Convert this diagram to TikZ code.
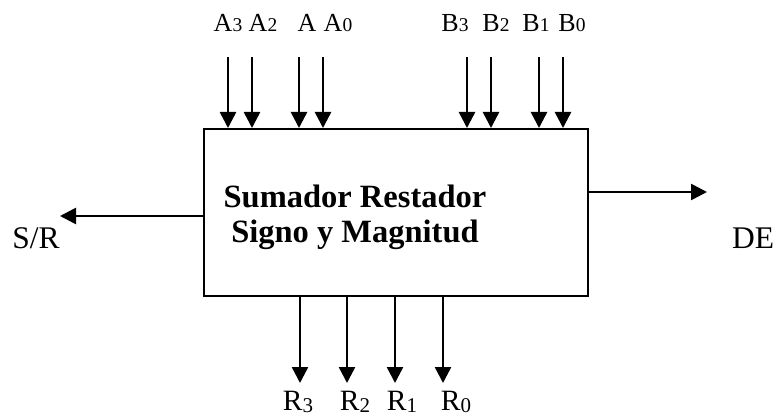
\documentclass[tikz,border=0pt]{standalone}
\usepackage{fontspec}
\setmainfont{Liberation Serif}
\usetikzlibrary{arrows.meta}
\newcommand\smalldigit[1]{{\fontsize{19.5}{19.5}\selectfont #1}}
\newcommand\lowdigit[1]{\raisebox{-2pt}{\fontsize{21}{21}\selectfont #1}}
\begin{document}
\begin{tikzpicture}[x=1pt,y=-1pt,
  arr/.style={line width=2.5pt,-{Triangle[length=16pt,width=16pt]}},
  lab/.style={inner sep=0pt,anchor=base,font=\fontsize{26}{26}\selectfont},
  rlab/.style={inner sep=0pt,anchor=base,font=\fontsize{29.5}{29.5}\selectfont},
  side/.style={inner sep=0pt,anchor=base,font=\fontsize{31.5}{31.5}\selectfont}]
\useasboundingbox (0,0) rectangle (776,417);
\node[draw,line width=2pt,minimum width=384pt,minimum height=167pt,inner sep=0pt] (box) at (396,212.5) {};
\node[align=center,font=\bfseries\fontsize{32.5}{35}\selectfont,inner sep=0pt] (title) at (355,217) {Sumador Restador\\Signo y Magnitud};
% top inputs
\foreach \n/\x in {a3/228,a2/252,a1/299,a0/323,b3/467,b2/491,b1/539,b0/563}{
  \coordinate (\n s) at (\x,57);
  \draw[arr] (\n s) -- (\n s |- box.north);
}
\node[lab] (la3) at (228,32) {A\smalldigit{3}};
\node[lab] (la2) at (263,32) {A\smalldigit{2}};
\node[lab] (la1) at (307,32) {A};
\node[lab] (la0) at (338,32) {A\smalldigit{0}};
\node[lab] (lb3) at (455,32) {B\smalldigit{3}};
\node[lab] (lb2) at (496,32) {B\smalldigit{2}};
\node[lab] (lb1) at (536,32) {B\smalldigit{1}};
\node[lab] (lb0) at (572,32) {B\smalldigit{0}};
% bottom outputs
\foreach \n/\x in {r3/300,r2/347,r1/395,r0/443}{
  \coordinate (\n e) at (\x,383);
  \draw[arr] (\n e |- box.south) -- (\n e);
}
\node[rlab] (lr3) at (298,410) {R\lowdigit{3}};
\node[rlab] (lr2) at (355,410) {R\lowdigit{2}};
\node[rlab] (lr1) at (402,410) {R\lowdigit{1}};
\node[rlab] (lr0) at (456,410) {R\lowdigit{0}};
% side arrows
\coordinate (sre) at (60,216);
\draw[arr] (sre -| box.west) -- (sre);
\node[side] (sr) at (36,248) {S/R};
\coordinate (dee) at (707,192);
\draw[arr] (dee -| box.east) -- (dee);
\node[side] (de) at (753,248) {DE};
\end{tikzpicture}
\end{document}
